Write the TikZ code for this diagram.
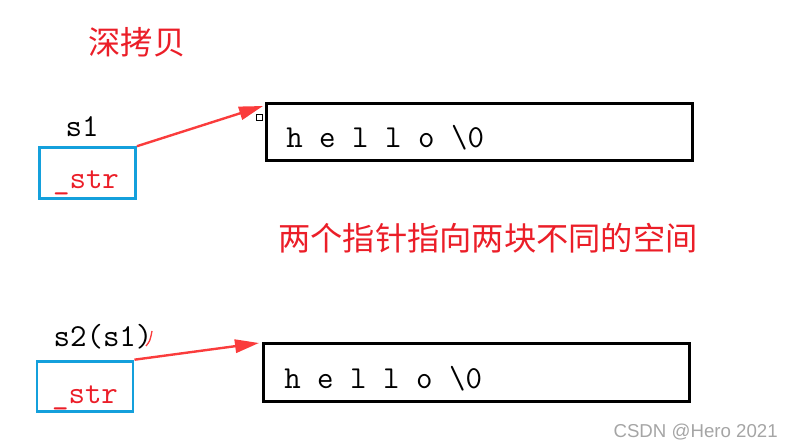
\documentclass[tikz,border=0pt]{standalone}
\usepackage{fontspec}
\setsansfont{Liberation Sans}
\newfontfamily\cjk{Noto Sans CJK SC}
\usetikzlibrary{arrows.meta,positioning}
\definecolor{arrowred}{RGB}{250,60,60}
\definecolor{textred}{RGB}{235,30,40}
\definecolor{ptrblue}{RGB}{20,160,220}
\definecolor{markgray}{RGB}{165,165,165}

\begin{document}
\begin{tikzpicture}[x=0.75pt,y=-0.75pt,>=Stealth]
  \tikzset{
    ptrbox/.style={draw=ptrblue,line width=2.2pt,minimum width=72pt,minimum height=38pt,inner sep=0pt},
    bufbox/.style={draw=black,line width=2.2pt,minimum width=319.5pt,minimum height=43pt,inner sep=0pt},
    code/.style={font=\ttfamily\fontsize{24}{28}\selectfont,inner sep=0pt},
    zh/.style={font=\cjk\fontsize{24.2}{28}\selectfont,text=textred,inner sep=0pt},
    ptrarrow/.style={arrowred,line width=1.8pt,-{Triangle[length=18pt,width=10pt]}},
  }
  \useasboundingbox (0,0) rectangle (795,448);

  % title
  \node[zh] (title) at (137,42) {深拷贝};

  % s1
  \node[ptrbox] (ptr1) at (87.5,173) {};
  \node[code,anchor=base] (name1) at (82,137) {s1};
  \node[code,text=textred,anchor=base] (str1) at (86,189) {\_str};
  \node[bufbox] (buf1) at (479.5,132) {};
  \node[code,anchor=base west] (text1) at (286,148) {h e l l o \textbackslash0};
  \node[draw,line width=0.6pt,minimum size=4.5pt,inner sep=0pt] (handle) at (259,117) {};
  \coordinate (tip1) at (263,106);
  \draw[ptrarrow] (ptr1.north east) -- (tip1);

  % note
  \node[zh] (note) at (488,238) {两个指针指向两块不同的空间};

  % s2
  \node[ptrbox] (ptr2) at (85,386.5) {};
  \node[code,anchor=base] (name2) at (103,347) {s2(s1)};
  \node[code,text=textred,anchor=base] (str2) at (85,403) {\_str};
  \node[bufbox] (buf2) at (476.5,372.5) {};
  \node[code,anchor=base west] (text2) at (284,388) {h e l l o \textbackslash0};
  \coordinate (tip2) at (259,343);
  \draw[ptrarrow] (ptr2.north east) -- (tip2);
  \draw[arrowred,line width=1pt] (146,346) .. controls (150,341) .. (152,331);

  % watermark
  \node[font=\sffamily\fontsize{14}{17}\selectfont,text=markgray,anchor=base east,inner sep=0pt] (mark) at (778,437) {CSDN @Hero 2021};
\end{tikzpicture}
\end{document}
